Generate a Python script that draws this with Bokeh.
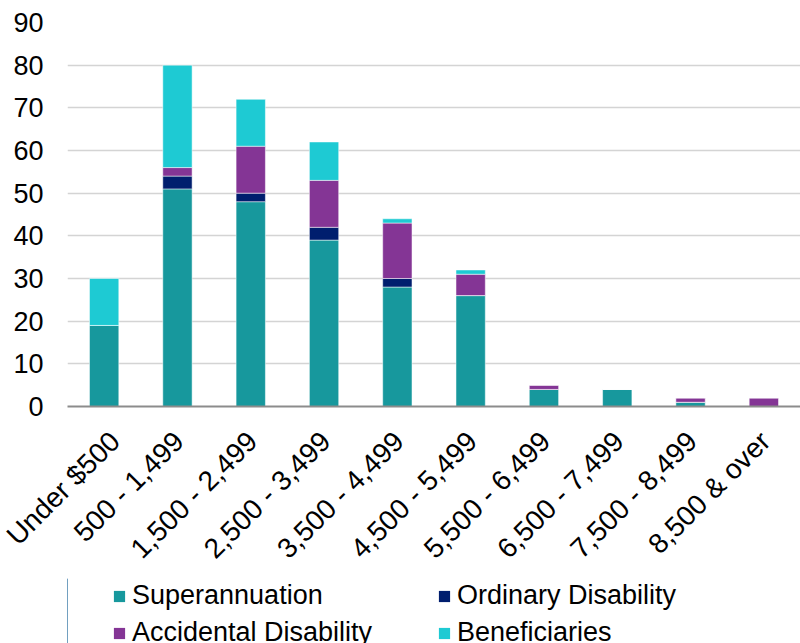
import math
from bokeh.plotting import figure
from bokeh.layouts import column
from bokeh.models import (Range1d, LinearAxis, FixedTicker, Legend,
                          LegendItem, ColumnDataSource)
from bokeh.embed import file_html
from bokeh.resources import INLINE

categories = ["Under $500", "500 - 1,499", "1,500 - 2,499", "2,500 - 3,499",
              "3,500 - 4,499", "4,500 - 5,499", "5,500 - 6,499", "6,500 - 7,499",
              "7,500 - 8,499", "8,500 & over"]
superannuation = [19, 51, 48, 39, 28, 26, 4, 4, 1, 0]
ordinary_disability = [0, 3, 2, 3, 2, 0, 0, 0, 0, 0]
accidental_disability = [0, 2, 11, 11, 13, 5, 1, 0, 1, 2]
beneficiaries = [11, 24, 11, 9, 1, 1, 0, 0, 0, 0]
series_names = ["Superannuation", "Ordinary Disability", "Accidental Disability", "Beneficiaries"]
colors = ["#17989D", "#001E6E", "#843595", "#1ECAD3"]
y_ticks = list(range(0, 91, 10))

FONT = "Liberation Sans"
n = len(categories)
positions = list(range(n))

source = ColumnDataSource(dict(
    pos=positions, cat=categories,
    **{series_names[0]: superannuation,
       series_names[1]: ordinary_disability,
       series_names[2]: accidental_disability,
       series_names[3]: beneficiaries}))

MAIN_H = 578
p = figure(width=800, height=MAIN_H,
           x_range=Range1d(-0.5, n - 0.5),
           y_range=Range1d(0, 90),
           output_backend="svg", toolbar_location=None,
           x_axis_location=None,
           min_border_left=67, min_border_right=0, min_border_top=22,
           min_border_bottom=MAIN_H - 406)
p.outline_line_color = None
p.background_fill_color = "white"

renderers = p.vbar_stack(series_names, x="pos", width=0.4, source=source,
                         fill_color=colors, line_color="white", line_alpha=0.5,
                         line_width=1)

# y axis
yax = p.yaxis[0]
yax.ticker = FixedTicker(ticks=y_ticks)
yax.axis_line_color = None
yax.major_tick_line_color = None
yax.minor_tick_line_color = None
yax.major_tick_out = 0
yax.major_tick_in = 0
yax.major_label_standoff = 24
yax.major_label_text_font = FONT
yax.major_label_text_font_size = "27px"
yax.major_label_text_color = "black"

p.ygrid.grid_line_color = "#D4D4D4"
p.ygrid.grid_line_width = 1.3
p.xgrid.grid_line_color = None

# x axis labels (shifted slightly right like the reference)
shift = 0.02
p.extra_x_ranges = {"labels": Range1d(-0.5 - shift, n - 0.5 - shift)}
xax = LinearAxis(x_range_name="labels",
                 ticker=FixedTicker(ticks=positions),
                 major_label_overrides={i: c for i, c in zip(positions, categories)},
                 major_label_orientation=math.pi / 4)
xax.axis_line_color = "#8C8C8C"
xax.axis_line_width = 2
xax.major_tick_line_color = None
xax.minor_tick_line_color = None
xax.major_tick_out = 0
xax.major_tick_in = 0
xax.major_label_standoff = 30
xax.major_label_text_font = FONT
xax.major_label_text_font_size = "28px"
xax.major_label_text_color = "black"
p.add_layout(xax, "below")

# legend in its own strip below the chart
LEG_H = 643 - MAIN_H
p2 = figure(width=800, height=LEG_H, x_range=Range1d(0, 1), y_range=Range1d(0, 1),
            output_backend="svg", toolbar_location=None,
            x_axis_location=None, y_axis_location=None, min_border=0)
p2.outline_line_color = None
p2.xgrid.grid_line_color = None
p2.ygrid.grid_line_color = None
p2.background_fill_color = None
p2.border_fill_color = None
dummies = [p2.vbar(x=[-10], top=[1], width=0.4, fill_color=c, line_color=None)
           for c in colors]
legend = Legend(items=[LegendItem(label=nm, renderers=[r]) for nm, r in zip(series_names, dummies)],
                ncols=2, orientation="horizontal", location=(45, -5),
                label_text_font=FONT, label_text_font_size="27px",
                label_text_color="black",
                glyph_width=14, glyph_height=14, label_standoff=6, spacing=6,
                padding=0, margin=0, label_width=299,
                border_line_color=None, background_fill_alpha=0)
p2.add_layout(legend)

layout = column(p, p2, spacing=0)
open("out.html", "w").write(file_html(layout, INLINE))
